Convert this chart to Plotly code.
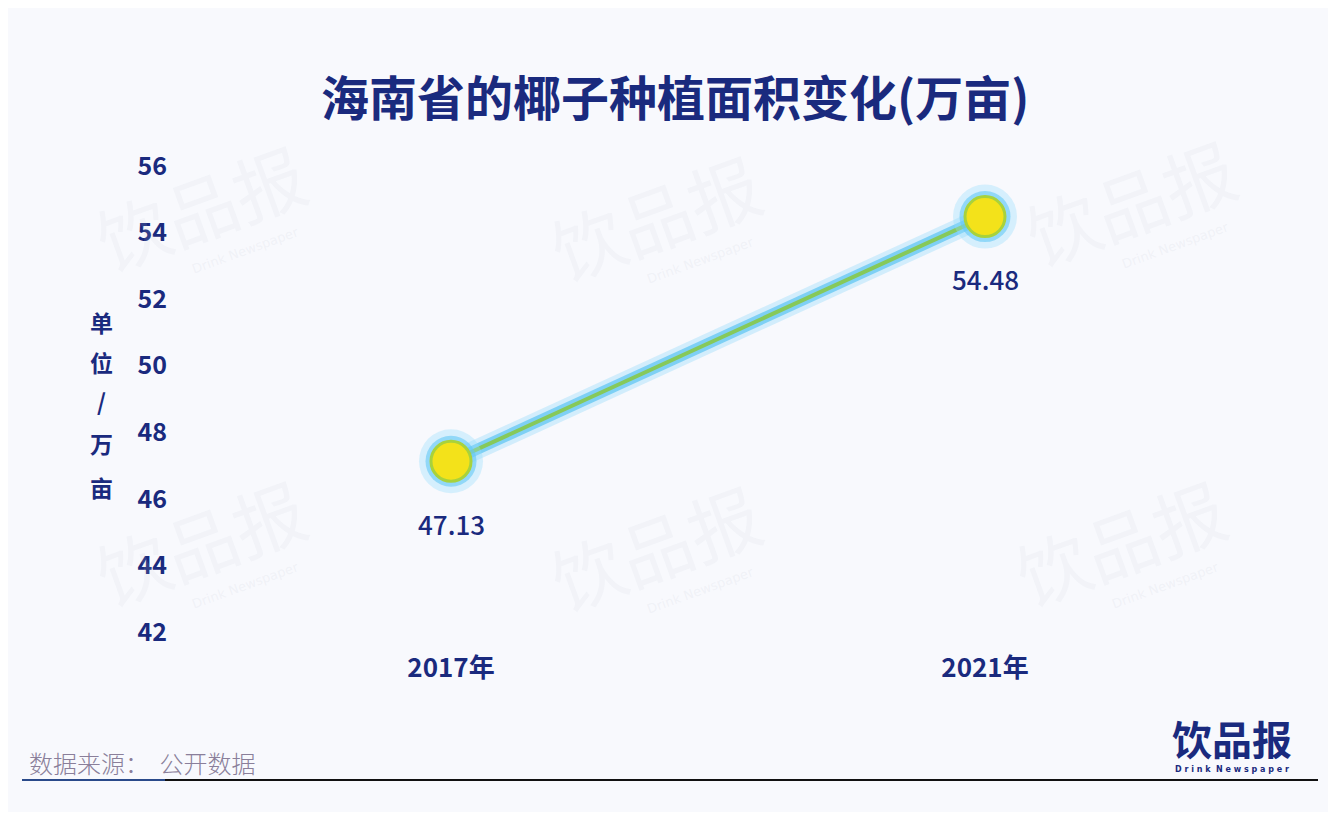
import plotly.graph_objects as go

years = ["2017年", "2021年"]
values = [47.13, 54.48]
value_labels = ["47.13", "54.48"]
y_ticks = [42, 44, 46, 48, 50, 52, 54, 56]
axis_title_chars = ["单", "位", "/", "万", "亩"]

NAVY = "#1a2a7e"
FONT = "Noto Sans CJK SC"

# page has an 8px body margin; work in page pixel coordinates
OFF = 8
W, H = 1336 - 2 * OFF, 820 - 2 * OFF
L, R, T, B = 184 - OFF, 84 - OFF, 166 - OFF, 188 - OFF
pw, ph = W - L - R, H - T - B


def px(xp):
    return (xp - OFF - L) / pw


def py(yp):
    return (H - B - (yp - OFF)) / ph


fig = go.Figure()

# glow under the line
fig.add_trace(go.Scatter(x=years, y=values, mode="lines",
                         line=dict(color="rgba(140,215,250,0.35)", width=20),
                         hoverinfo="skip", showlegend=False))
fig.add_trace(go.Scatter(x=years, y=values, mode="lines",
                         line=dict(color="rgba(90,195,242,0.70)", width=11),
                         hoverinfo="skip", showlegend=False))
fig.add_trace(go.Scatter(x=years, y=values, mode="lines",
                         line=dict(color="#86c95a", width=4),
                         hoverinfo="skip", showlegend=False))
# marker glow
fig.add_trace(go.Scatter(x=years, y=values, mode="markers",
                         marker=dict(size=64, color="rgba(150,220,252,0.35)", line=dict(width=0)),
                         hoverinfo="skip", showlegend=False))
fig.add_trace(go.Scatter(x=years, y=values, mode="markers",
                         marker=dict(size=51, color="rgba(100,200,245,0.6)", line=dict(width=0)),
                         hoverinfo="skip", showlegend=False))
# yellow ball
fig.add_trace(go.Scatter(x=years, y=values, mode="markers",
                         marker=dict(size=40, color="#f3e21a", line=dict(color="#a8d23c", width=3)),
                         hoverinfo="skip", showlegend=False))
# seam detail on the ball
fig.add_trace(go.Scatter(x=years, y=values, mode="markers",
                         marker=dict(size=16, color="rgba(0,0,0,0)",
                                     symbol="y-down-open", line=dict(color="#62c08e", width=3)),
                         hoverinfo="skip", showlegend=False))

annotations = []

# value labels
for yr, v, lab in zip(years, values, value_labels):
    annotations.append(dict(text=lab, xref="x", yref="y", x=yr, y=v, yshift=-62,
                            showarrow=False, xanchor="center", yanchor="middle",
                            font=dict(family=FONT, size=26, color=NAVY, weight=500)))

# title
annotations.append(dict(text="<b>海南省的椰子种植面积变化(万亩)</b>", xref="paper", yref="paper",
                        x=px(675), y=py(95), xanchor="center", yanchor="middle", showarrow=False,
                        font=dict(family=FONT, size=48, color=NAVY)))

# vertical axis title, one character per annotation
for ch, yy in zip(axis_title_chars, [322, 362, 401, 443, 487]):
    annotations.append(dict(text=f"<b>{ch}</b>", xref="paper", yref="paper",
                            x=px(101), y=py(yy), xanchor="center", yanchor="middle",
                            showarrow=False, font=dict(family=FONT, size=23, color=NAVY)))

# source
annotations.append(dict(text="数据来源：  公开数据", xref="paper", yref="paper",
                        x=px(27), y=py(762), xanchor="left", yanchor="middle", showarrow=False,
                        font=dict(family=FONT, size=24, color="#8a7f9a", weight=300)))

# logo
annotations.append(dict(text="<b>饮品报</b>", xref="paper", yref="paper",
                        x=px(1232), y=py(738), xanchor="center", yanchor="middle", showarrow=False,
                        font=dict(family=FONT, size=40, color=NAVY)))
annotations.append(dict(text="<b>D r i n k  N e w s p a p e r</b>", xref="paper", yref="paper",
                        x=px(1232), y=py(769), xanchor="center", yanchor="middle", showarrow=False,
                        font=dict(family="DejaVu Sans", size=8, color=NAVY)))

# faint watermarks
for (wx, wy) in [(200, 205), (655, 215), (1130, 200), (200, 540), (655, 545), (1120, 540)]:
    annotations.append(dict(text="饮品报", xref="paper", yref="paper",
                            x=px(wx), y=py(wy), xanchor="center", yanchor="middle",
                            showarrow=False, textangle=-20,
                            font=dict(family=FONT, size=72, color="rgba(200,205,220,0.13)")))
    annotations.append(dict(text="Drink Newspaper", xref="paper", yref="paper",
                            x=px(wx + 45), y=py(wy + 45), xanchor="center", yanchor="middle",
                            showarrow=False, textangle=-20,
                            font=dict(family="DejaVu Sans", size=13, color="rgba(200,205,220,0.18)")))

shapes = [
    dict(type="line", xref="paper", yref="paper", x0=px(22), x1=px(165), y0=py(780), y1=py(780),
         line=dict(color="#2a4a8a", width=2)),
    dict(type="line", xref="paper", yref="paper", x0=px(165), x1=px(1318), y0=py(780), y1=py(780),
         line=dict(color="#111111", width=2)),
]

fig.update_layout(
    width=W, height=H,
    margin=dict(l=L, r=R, t=T, b=B),
    paper_bgcolor="#f8f9fd", plot_bgcolor="rgba(0,0,0,0)",
    xaxis=dict(type="category", range=[-0.5, 1.5], showgrid=False, zeroline=False,
               showline=False, ticks="", ticklabelstandoff=18,
               tickfont=dict(family=FONT, size=26, color=NAVY),
               tickvals=years, ticktext=[f"<b>{y}</b>" for y in years]),
    yaxis=dict(range=[42, 56], showgrid=False, zeroline=False, showline=False,
               tickvals=y_ticks, ticktext=[f"<b>{t}</b>" for t in y_ticks],
               ticks="", ticklabelstandoff=16,
               tickfont=dict(family=FONT, size=25, color=NAVY)),
    annotations=annotations, shapes=shapes,
)

fig.write_html("out.html")
